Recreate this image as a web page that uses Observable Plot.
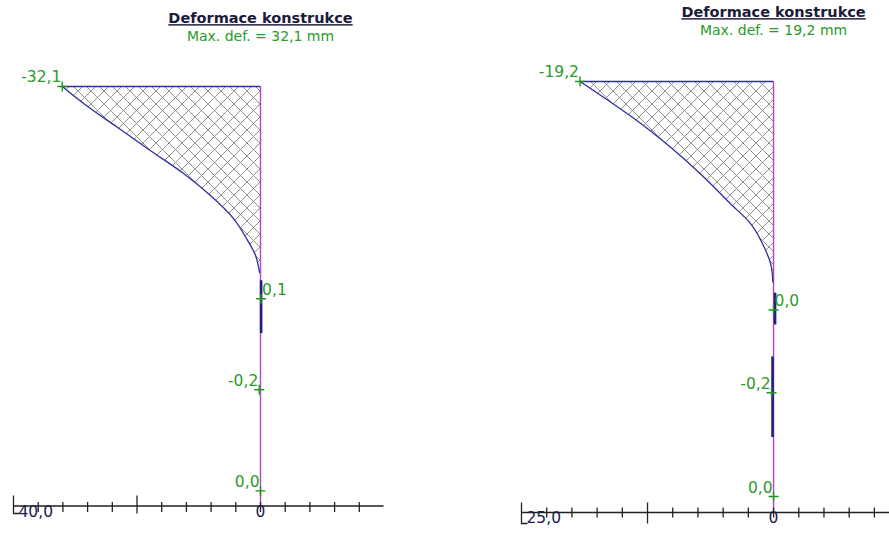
<!DOCTYPE html>
<html><head><meta charset="utf-8">
<script src="https://cdn.jsdelivr.net/npm/d3@7"></script>
<script src="https://cdn.jsdelivr.net/npm/@observablehq/plot@0.6"></script>
<style>
html,body{margin:0;padding:0;background:#fff;overflow:hidden;width:889px;height:533px;}
#left,#right{position:absolute;top:0;}
#left{left:0;width:444px;}
#right{left:444px;width:445px;}
svg{max-width:none !important;}
</style></head><body>
<div id="left"></div><div id="right"></div>
<script>
// ---------- data ----------
const titleText = "Deformace konstrukce";
const leftSubtitle = "Max. def. = 32,1 mm";
const rightSubtitle = "Max. def. = 19,2 mm";

// left wall: depth (m) and deflection (mm)
const leftWallLength = 10;
const leftDepth = [0, 0.41, 0.97, 1.53, 2.08, 2.60, 3.16, 3.64, 4.03, 4.31, 4.43];
const leftDeflection = [-32.1, -28.6, -23.2, -17.8, -12.4, -8.1, -4.3, -2.2, -0.8, -0.3, -0.16];
const leftSegFrom = [4.63];
const leftSegTo = [5.89];
const leftSegDeflection = [0.1];
const leftMarkValue = [-32.1, 0.1, -0.2, 0.0];
const leftMarkDepth = [0, 5.06, 7.23, 9.64];
const leftMarkSide = ["left", "right", "left", "left"];
const leftAxisStart = -40;
const leftAxisEnd = 20;
const leftMinorTicks = [-36, -32, -28, -24, -16, -12, -8, -4, 0, 4, 8, 12, 16];
const leftMajorTicks = [-20];
const leftAxisLabel = "40,0";

// right wall
const rightWallLength = 10;
const rightDepth = [0, 0.36, 0.90, 1.51, 2.22, 2.83, 3.29, 3.83, 4.22, 4.45, 4.65];
const rightDeflection = [-19.2, -16.9, -13.6, -10.3, -6.9, -4.3, -2.3, -0.96, -0.3, -0.13, -0.07];
const rightSegFrom = [4.91, 6.39];
const rightSegTo = [5.65, 8.26];
const rightSegDeflection = [0.15, -0.1];
const rightMarkValue = [-19.2, 0.0, -0.2, 0.0];
const rightMarkDepth = [0, 5.30, 7.22, 9.63];
const rightMarkSide = ["left", "right", "left", "left"];
const rightAxisStart = -25;
const rightAxisEnd = 11.5;
const rightMinorTicks = [-22.5, -20, -17.5, -15, -10, -7.5, -5, -2.5, 0, 2.5, 5, 7.5, 10];
const rightMajorTicks = [-12.5];
const rightAxisLabel = "25,0";

// ---------- helpers ----------
const fmt = v => d3.format(".1f")(v).replace(".", ",").replace("\u2212", "-");
const vtick = (a, b) => ({draw(ctx) { ctx.moveTo(0, -a); ctx.lineTo(0, b); }});
const ltick = (a, b, w) => ({draw(ctx) { ctx.moveTo(0, -a); ctx.lineTo(0, b); ctx.lineTo(w, b); }});
const cross = h => ({draw(ctx) { ctx.moveTo(-h, 0); ctx.lineTo(h, 0); ctx.moveTo(0, -h); ctx.lineTo(0, h); }});

const COL = {
  wall: "#b048c4", curve: "#2e2e9c", seg: "#1f1f8a", green: "#1f961f",
  label: "#2a9a2a", axis: "#222", axisText: "#1c1c4c", title: "#1b1b3a", hatch: "#909090"
};

function panel(cfg) {
  const pts = cfg.depth.map((d, i) => ({depth: d, def: cfg.deflection[i]}));
  const segs = cfg.segFrom.map((f, i) => ({from: f, to: cfg.segTo[i], def: cfg.segDeflection[i]}));
  const marks = cfg.markValue.map((v, i) => ({v, depth: cfg.markDepth[i], side: cfg.markSide[i], label: fmt(v)}));
  const L = cfg.wallLength;
  const svg = Plot.plot({
    width: cfg.width, height: 533,
    marginLeft: cfg.marginLeft, marginRight: cfg.marginRight,
    marginTop: cfg.marginTop, marginBottom: cfg.marginBottom,
    x: {domain: [cfg.axisStart, cfg.axisEnd], axis: null},
    y: {domain: [0, L], reverse: true, axis: null},
    marks: [
      Plot.areaX(pts, {x1: "def", x2: 0, y: "depth", fill: `url(#${cfg.id})`, curve: "monotone-y"}),
      Plot.ruleY([{y: 0, x1: cfg.deflection[0]}], {y: "y", x1: "x1", x2: 0, stroke: COL.curve, strokeWidth: 1.4}),
      Plot.ruleX([0], {y1: 0, y2: L, stroke: COL.wall, strokeWidth: 1.4}),
      Plot.line(pts, {x: "def", y: "depth", stroke: COL.curve, strokeWidth: 1.3, curve: "monotone-y"}),
      Plot.ruleX(segs, {x: "def", y1: "from", y2: "to", stroke: COL.seg, strokeWidth: 2.6}),
      Plot.dot(marks, {x: "v", y: "depth", symbol: cross(5), stroke: COL.green, fill: "none", strokeWidth: 1.4}),
      Plot.text(marks.filter(m => m.side === "left"), {x: "v", y: "depth", text: "label", textAnchor: "end", dx: -1, dy: -9, fill: COL.label, fontSize: 15.5, fontFamily: "DejaVu Sans"}),
      Plot.text(marks.filter(m => m.side === "right"), {x: "v", y: "depth", text: "label", textAnchor: "start", dx: 1, dy: -9, fill: COL.label, fontSize: 15.5, fontFamily: "DejaVu Sans"}),
      // axis
      Plot.ruleY([L], {x1: cfg.axisStart, x2: cfg.axisEnd, stroke: COL.axis, strokeWidth: 1.3}),
      Plot.dot(cfg.minorTicks, {x: d => d, y: L, symbol: vtick(cfg.minor[0], cfg.minor[1]), stroke: COL.axis, fill: "none", strokeWidth: 1.3}),
      Plot.dot(cfg.majorTicks, {x: d => d, y: L, symbol: vtick(cfg.major[0], cfg.major[1]), stroke: COL.axis, fill: "none", strokeWidth: 1.3}),
      Plot.dot([cfg.axisStart], {x: d => d, y: L, symbol: ltick(cfg.major[0], cfg.major[1], 6), stroke: COL.axis, fill: "none", strokeWidth: 1.3}),
      Plot.text([cfg.axisLabel], {x: cfg.axisStart, y: L, text: d => d, textAnchor: "start", dx: 5, dy: cfg.labelDy, fill: COL.axisText, fontSize: 15.5, fontFamily: "DejaVu Sans"}),
      Plot.text(["0"], {x: 0, y: L, text: d => d, textAnchor: "middle", dy: cfg.labelDy, fill: COL.axisText, fontSize: 15.5, fontFamily: "DejaVu Sans"}),
      // titles
      Plot.text([titleText], {x: 0, frameAnchor: "top", lineAnchor: "middle", text: d => d, dy: cfg.titleDy, fill: COL.title, fontSize: 14.5, fontWeight: "bold", fontFamily: "DejaVu Sans"}),
      Plot.text([cfg.subtitle], {x: 0, frameAnchor: "top", lineAnchor: "middle", text: d => d, dy: cfg.subDy, fill: COL.label, fontSize: 14, fontFamily: "DejaVu Sans"})
    ]
  });
  const s = d3.select(svg);
  const pat = s.insert("defs", ":first-child").append("pattern")
    .attr("id", cfg.id).attr("patternUnits", "userSpaceOnUse")
    .attr("width", 13).attr("height", 13);
  pat.append("path").attr("d", "M0,0L13,13M13,0L0,13")
    .attr("stroke", COL.hatch).attr("stroke-width", 1).attr("fill", "none");
  s.selectAll("text").filter(function() { return this.textContent === titleText; })
    .attr("text-decoration", "underline");
  return svg;
}

document.getElementById("left").appendChild(panel({
  id: "hatchL", width: 444, marginLeft: 13, marginRight: 60.5, marginTop: 86, marginBottom: 27.5,
  wallLength: leftWallLength, depth: leftDepth, deflection: leftDeflection,
  segFrom: leftSegFrom, segTo: leftSegTo, segDeflection: leftSegDeflection,
  markValue: leftMarkValue, markDepth: leftMarkDepth, markSide: leftMarkSide,
  axisStart: leftAxisStart, axisEnd: leftAxisEnd, minorTicks: leftMinorTicks, majorTicks: leftMajorTicks,
  axisLabel: leftAxisLabel, minor: [4, 6], major: [10.5, 7.5], labelDy: 6,
  subtitle: leftSubtitle, titleDy: -68, subDy: -50
}));
document.getElementById("right").appendChild(panel({
  id: "hatchR", width: 445, marginLeft: 77, marginRight: 0, marginTop: 81, marginBottom: 21,
  wallLength: rightWallLength, depth: rightDepth, deflection: rightDeflection,
  segFrom: rightSegFrom, segTo: rightSegTo, segDeflection: rightSegDeflection,
  markValue: rightMarkValue, markDepth: rightMarkDepth, markSide: rightMarkSide,
  axisStart: rightAxisStart, axisEnd: rightAxisEnd, minorTicks: rightMinorTicks, majorTicks: rightMajorTicks,
  axisLabel: rightAxisLabel, minor: [5, 5], major: [10, 11], labelDy: 6,
  subtitle: rightSubtitle, titleDy: -69, subDy: -51
}));
</script>
</body></html>
